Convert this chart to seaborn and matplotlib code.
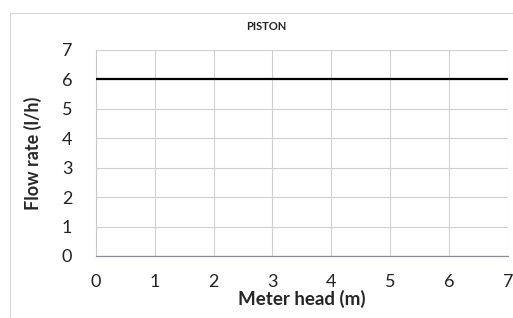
import matplotlib
matplotlib.use("Agg")
import matplotlib.pyplot as plt
import seaborn as sns
import pandas as pd
from matplotlib.lines import Line2D

meter_head = [0, 7]
flow_rate = [6, 6]
x_ticks = [0, 1, 2, 3, 4, 5, 6, 7]
y_ticks = [0, 1, 2, 3, 4, 5, 6, 7]

sns.set_style("white")
plt.rcParams['font.family'] = ['Lato', 'DejaVu Sans']

fig = plt.figure(figsize=(5.13, 3.18), dpi=100)
ax = fig.add_axes([0.187, 0.195, 0.803, 0.648])

df = pd.DataFrame({"head": meter_head, "flow": flow_rate})
sns.lineplot(data=df, x="head", y="flow", ax=ax, color="black", linewidth=1.6, zorder=3)

ax.set_xlim(0, 7)
ax.set_ylim(0, 7)
ax.set_xticks(x_ticks)
ax.set_yticks(y_ticks)
ax.grid(True, color="#d0d0d0", linewidth=0.8)
for s in ["top", "right"]:
    ax.spines[s].set_visible(False)
ax.spines["left"].set_color("#c8c8c8")
ax.spines["left"].set_linewidth(0.8)
ax.spines["bottom"].set_color("#8c8c94")
ax.spines["bottom"].set_linewidth(0.9)
ax.tick_params(axis="both", length=5, width=0.8, color="#b8b8b8", labelsize=13,
               labelcolor="#222222", direction="out")
ax.tick_params(axis="x", pad=8)
ax.tick_params(axis="y", pad=12)
ax.set_xlabel("Meter head (m)", fontsize=13.5, fontweight="bold", labelpad=0)
ax.set_ylabel("Flow rate (l/h)", fontsize=13, fontweight="bold", labelpad=14)
fig.text(266/513, 1-26/318, "PISTON", fontsize=8, fontweight="bold",
         ha="center", va="center", color="#222222")

fig.add_artist(Line2D([10/513, 10/513], [0, 1-13/318], color="#d8d8d8", linewidth=0.8, transform=fig.transFigure))
fig.add_artist(Line2D([10/513, 1], [1-13/318, 1-13/318], color="#d8d8d8", linewidth=0.8, transform=fig.transFigure))

fig.savefig("out.png", dpi=100)
